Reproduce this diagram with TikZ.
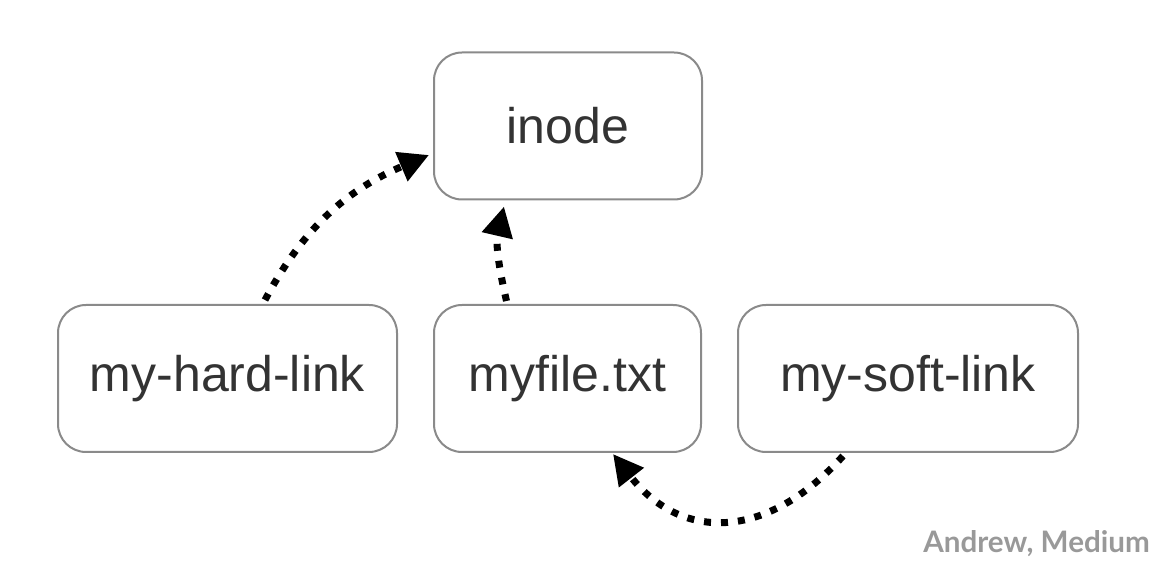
\documentclass[tikz,border=0pt]{standalone}
\usepackage{fontspec}
\setmainfont{Liberation Sans}
\newfontfamily\credfont{Lato}
\usetikzlibrary{arrows.meta}
\definecolor{boxline}{HTML}{8A8A8A}
\definecolor{txt}{HTML}{333333}
\definecolor{cred}{HTML}{999999}
\begin{document}
\begin{tikzpicture}[x=1pt,y=1pt,
  fbox/.style={draw=boxline,line width=2pt,rounded corners=28pt,fill=white,
    minimum height=147pt,inner sep=0pt,font=\fontsize{50}{60}\selectfont,text=txt},
  dotarrow/.style={line width=7pt,dash pattern=on 7pt off 10pt,black,
    -{Triangle[length=30pt,width=30pt]}}]
\useasboundingbox (0,0) rectangle (1152,572);
\node[fbox,minimum width=268pt] (inode) at (568,446) {inode};
\node[fbox,minimum width=339pt] (hard) at (227.5,193.5) {my-hard-link};
\node[fbox,minimum width=267pt] (file) at (567.5,193.5) {myfile.txt};
\node[fbox,minimum width=340pt] (soft) at (908,193.5) {my-soft-link};
\node[anchor=base east,font=\credfont\bfseries\fontsize{29.6}{34}\selectfont,text=cred,inner sep=0pt] (credit) at (1150,19) {Andrew, Medium};
\draw[dotarrow] ([xshift=37.5pt,yshift=4pt]hard.north) to[out=62,in=203] ([xshift=-4pt,yshift=-29pt]inode.west);
\draw[dotarrow] ([xshift=-61pt,yshift=3pt]file.north) to[out=103,in=-103] ([xshift=-64pt,yshift=-6pt]inode.south);
\draw[dotarrow] ([xshift=-65pt,yshift=-3pt]soft.south) to[out=-132,in=-52,looseness=1.25] ([xshift=45.5pt,yshift=-1pt]file.south);
\end{tikzpicture}
\end{document}
